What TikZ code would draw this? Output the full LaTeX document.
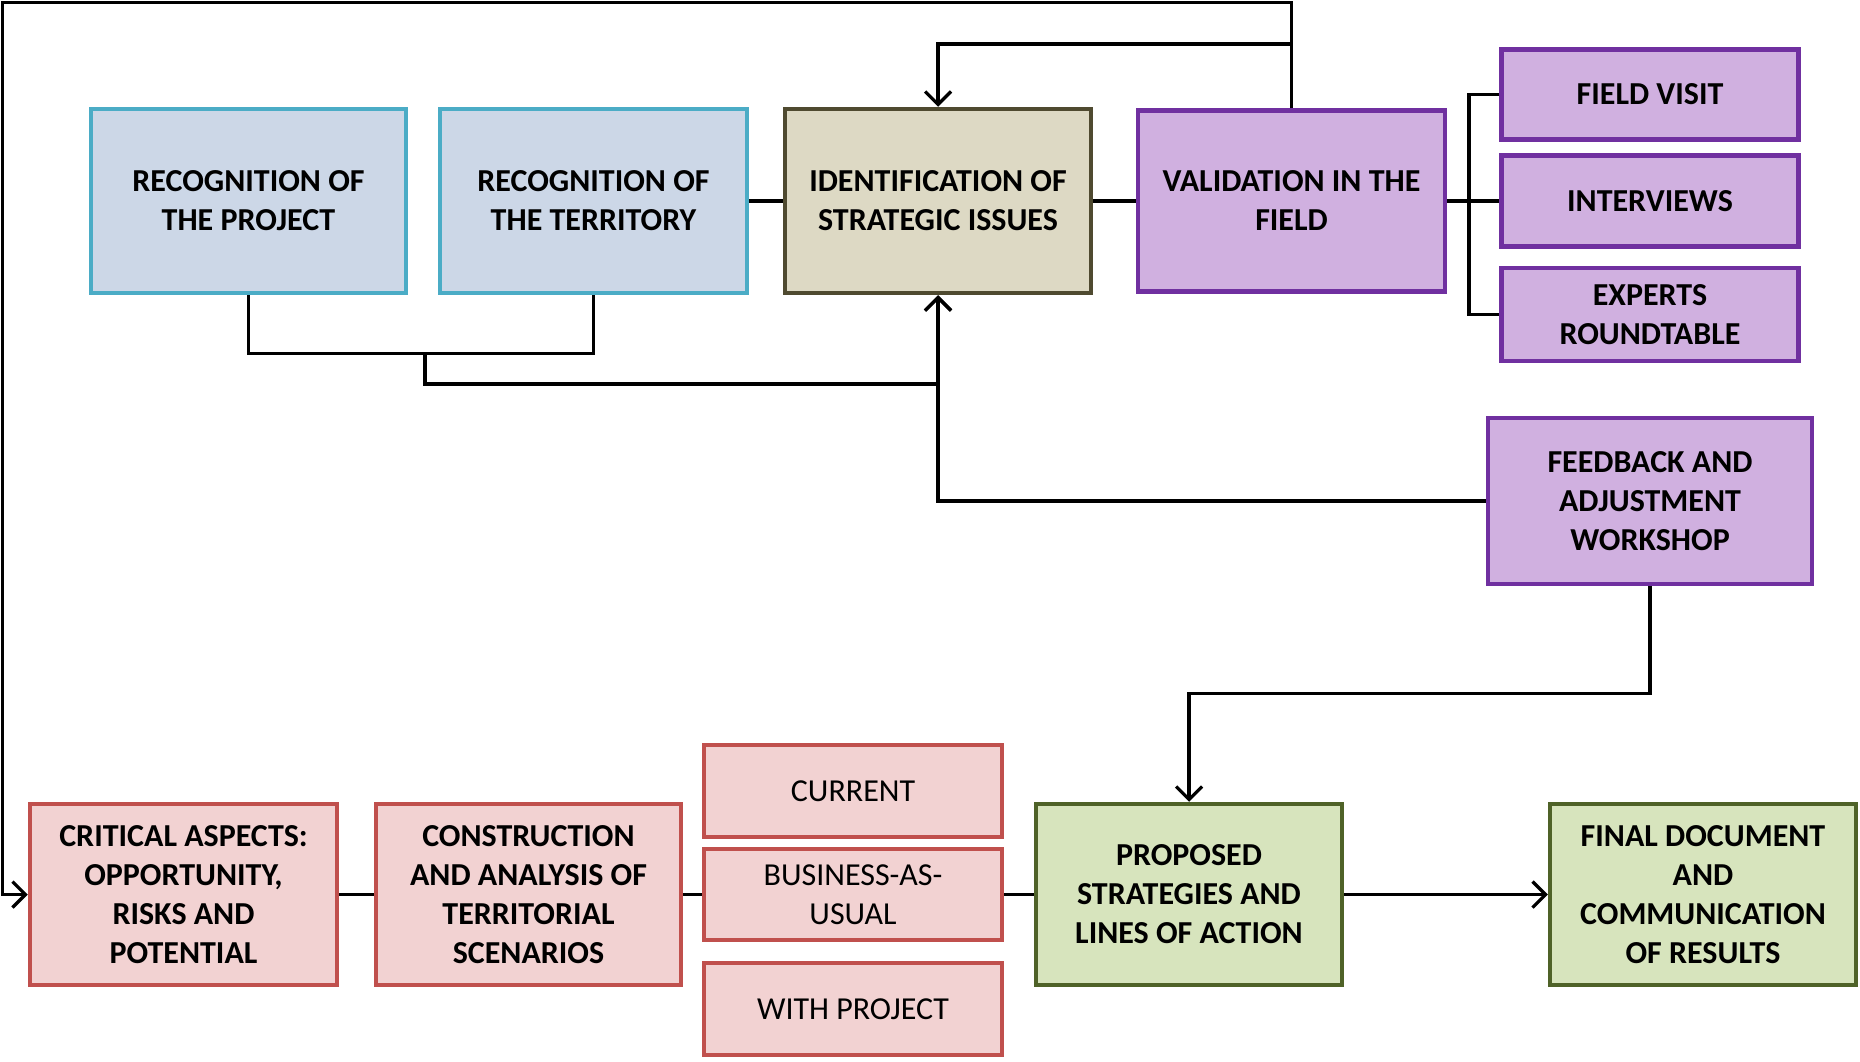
\documentclass[tikz,border=0pt]{standalone}
\usepackage{fontspec}
\setmainfont{Carlito}
\usetikzlibrary{arrows.meta}
\definecolor{bluebd}{HTML}{4BACC6}
\definecolor{bluefl}{HTML}{CCD7E7}
\definecolor{olivebd}{HTML}{4F4A30}
\definecolor{olivefl}{HTML}{DDD9C4}
\definecolor{purpbd}{HTML}{7030A0}
\definecolor{purpfl}{HTML}{D0B0E0}
\definecolor{redbd}{HTML}{C0504D}
\definecolor{redfl}{HTML}{F2D2D2}
\definecolor{greenbd}{HTML}{4F6228}
\definecolor{greenfl}{HTML}{D7E4BD}
\tikzset{
  box/.style={rectangle, line width=4.5pt, align=center, inner sep=0pt,
    font=\bfseries\fontsize{32}{39}\selectfont},
  bluebox/.style={box, draw=bluebd, fill=bluefl},
  olivebox/.style={box, draw=olivebd, fill=olivefl},
  purpbox/.style={box, draw=purpbd, fill=purpfl},
  redbox/.style={box, draw=redbd, fill=redfl},
  redthin/.style={box, draw=redbd, fill=redfl, font=\fontsize{32}{39}\selectfont},
  greenbox/.style={box, draw=greenbd, fill=greenfl},
  conn/.style={draw=black, line width=3.2pt},
  arr/.style={conn, -{Straight Barb[length=13pt,width=26pt]}}
}
\begin{document}
\begin{tikzpicture}[x=1pt,y=-1pt]
\useasboundingbox (0,0) rectangle (1860,1061);
% top row
\node[bluebox, minimum width=315pt, minimum height=184pt] (recp) at (248.5,201) {RECOGNITION OF\\THE PROJECT};
\node[bluebox, minimum width=307pt, minimum height=184pt] (rect) at (593.5,201) {RECOGNITION OF\\THE TERRITORY};
\node[olivebox, minimum width=306pt, minimum height=184pt] (ids) at (938,201) {IDENTIFICATION OF\\STRATEGIC ISSUES};
\node[purpbox, minimum width=307pt, minimum height=181pt] (val) at (1291.5,201) {VALIDATION IN THE\\FIELD};
\node[purpbox, minimum width=297pt, minimum height=90pt] (fv) at (1650,94.5) {FIELD VISIT};
\node[purpbox, minimum width=297pt, minimum height=91pt] (intv) at (1650,201) {INTERVIEWS};
\node[purpbox, minimum width=297pt, minimum height=93pt] (exp) at (1650,314.5) {EXPERTS\\ROUNDTABLE};
\node[purpbox, minimum width=324pt, minimum height=166pt] (fb) at (1650,501) {FEEDBACK AND\\ADJUSTMENT\\WORKSHOP};
% bottom row
\node[redbox, minimum width=307pt, minimum height=181pt] (crit) at (183.5,894.5) {CRITICAL ASPECTS:\\OPPORTUNITY,\\RISKS AND\\POTENTIAL};
\node[redbox, minimum width=305pt, minimum height=181pt] (cons) at (528.5,894.5) {CONSTRUCTION\\AND ANALYSIS OF\\TERRITORIAL\\SCENARIOS};
\node[redthin, minimum width=298pt, minimum height=92pt] (cur) at (853,791) {CURRENT};
\node[redthin, minimum width=298pt, minimum height=91pt] (bau) at (853,894.5) {BUSINESS-AS-\\USUAL};
\node[redthin, minimum width=298pt, minimum height=92pt] (wp) at (853,1009) {WITH PROJECT};
\node[greenbox, minimum width=306pt, minimum height=181pt] (prop) at (1189,894.5) {PROPOSED\\STRATEGIES AND\\LINES OF ACTION};
\node[greenbox, minimum width=306pt, minimum height=181pt] (fin) at (1703,894.5) {FINAL DOCUMENT\\AND\\COMMUNICATION\\OF RESULTS};
% connectors
\coordinate (ctl) at (2.5,2.5);
\coordinate (jv) at (1291.5,44);
\coordinate (jr) at (425,353);
\coordinate (jb) at (1469,94.5);
\draw[arr] (val.north) |- (ctl) |- (crit.west);
\draw[arr] (jv) -| (ids.north);
\draw[conn] (recp.south) -- ++(0,58) -| (rect.south);
\draw[arr] (jr) -- ++(0,31) -| (ids.south);
\draw[arr] (fb.west) -| (ids.south);
\draw[arr] (fb.south) -- ++(0,107) -| (prop.north);
\draw[conn] (rect.east) -- (ids.west);
\draw[conn] (ids.east) -- (val.west);
\draw[conn] (val.east) -- (intv.west);
\draw[conn] (fv.west) -- (jb) |- (exp.west);
\draw[conn] (crit.east) -- (cons.west);
\draw[conn] (cons.east) -- (bau.west);
\draw[conn] (bau.east) -- (prop.west);
\draw[arr] (prop.east) -- (fin.west);
\end{tikzpicture}
\end{document}
